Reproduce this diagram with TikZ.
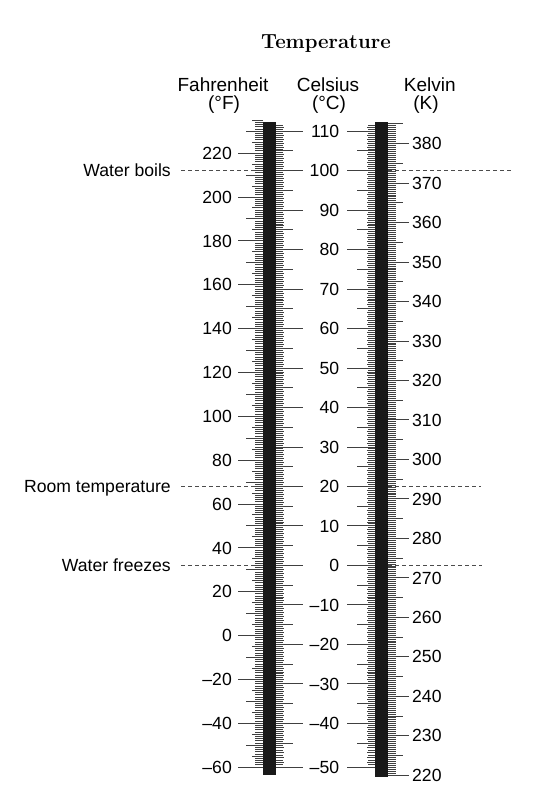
\documentclass[tikz,border=0pt]{standalone}
\usepackage{fontspec}
\newfontfamily\labfont{Liberation Sans}
\begin{document}
\begin{tikzpicture}[x=1pt,y=-1pt,
  tick/.style={draw=black!75, line width=0.75pt},
  thermobar/.style={fill=black!90, draw=none, inner sep=0pt, minimum width=13pt, anchor=north west},
  lab/.style={font=\labfont\fontsize{17.6}{20}\selectfont, inner sep=0pt},
  head/.style={font=\labfont\fontsize{19}{22}\selectfont, inner sep=0pt, anchor=base},
  guide/.style={draw=black!70, line width=0.8pt, dash pattern=on 4pt off 3pt}]
\useasboundingbox (0,0) rectangle (533,800);

% title and headers
\node[font=\bfseries\fontsize{20.4}{24}\selectfont, anchor=base, inner sep=0pt] (title) at (326,48.3) {Temperature};
\node[head] (hF) at (223,91.5) {Fahrenheit};
\node[head] (hF2) at (224,109.5) {(°F)};
\node[head] (hC) at (328,91.5) {Celsius};
\node[head] (hC2) at (329,109.5) {(°C)};
\node[head] (hK) at (429.7,91.5) {Kelvin};
\node[head] (hK2) at (426,109.5) {(K)};

% reference coordinates for guides
\coordinate (boilsL) at (263,170.6);
\coordinate (boilsR) at (388,170.6);
\coordinate (boilsE) at (512,170.6);
\coordinate (roomL) at (263,486.0);
\coordinate (roomR) at (388,486.0);
\coordinate (roomE) at (481,486.0);
\coordinate (frzL) at (263,565.5);
\coordinate (frzR) at (388,565.5);
\coordinate (frzE) at (482,565.5);

% event labels
\node[lab, anchor=base east] (boils) at (171,176.9) {Water boils};
\node[lab, anchor=base east] (room) at (171,492.3) {Room temperature};
\node[lab, anchor=base east] (frz) at (171,571.8) {Water freezes};

\draw[guide] (boils.east |- boilsL) ++(10,0) -- (boilsL);
\draw[guide] (boilsR) -- (boilsE);
\draw[guide] (room.east |- roomL) ++(10,0) -- (roomL);
\draw[guide] (roomR) -- (roomE);
\draw[guide] (frz.east |- frzL) ++(10,0) -- (frzL);
\draw[guide] (frzR) -- (frzE);

% bars
\node[thermobar, minimum height=653pt] (fbar) at (263,122) {};
\node[thermobar, minimum height=655pt] (kbar) at (375,122) {};

% Fahrenheit ticks (left of first bar)
\foreach \f in {-60,...,235}{
  \pgfmathsetmacro\yy{565.3-(\f-32)*2.193}
  \pgfmathsetmacro\len{ifthenelse(mod(\f,20)==0,25,ifthenelse(mod(\f,10)==0,17,ifthenelse(mod(\f,5)==0,11,8)))}
  \draw[tick] (263,\yy) -- ++(-\len,0);
}

% Celsius ticks (right of first bar, left of second bar)
\foreach \k in {-100,...,223}{
  \pgfmathsetmacro\c{\k/2}
  \pgfmathsetmacro\yy{\k<-90 ? 742.9+(-45-\c)*4.88 : 565.3-\c*3.947}
  \pgfmathsetmacro\lena{ifthenelse(mod(\k,20)==0,27,ifthenelse(mod(\k,10)==0,17,ifthenelse(mod(\k,2)==0,8,7)))}
  \pgfmathsetmacro\lenb{ifthenelse(mod(\k,20)==0,28,ifthenelse(mod(\k,10)==0,18,ifthenelse(mod(\k,2)==0,8.5,7.5)))}
  \draw[tick] (276,\yy) -- ++(\lena,0);
  \draw[tick] (375,\yy) -- ++(-\lenb,0);
}

% Kelvin ticks (right of second bar)
\foreach \k in {440,...,770}{
  \pgfmathsetmacro\yy{565.3-(\k/2-273.15)*3.947}
  \pgfmathsetmacro\len{ifthenelse(mod(\k,20)==0,21,ifthenelse(mod(\k,10)==0,15,8))}
  \draw[tick] (388,\yy) -- ++(\len,0);
}

% Fahrenheit labels
\foreach \f/\t in {220/220,200/200,180/180,160/160,140/140,120/120,100/100,80/80,60/60,40/40,20/20,0/0,-20/–20,-40/–40,-60/–60}{
  \pgfmathsetmacro\yy{565.3-(\f-32)*2.193+6.3}
  \node[lab, anchor=base east] (fl\f) at (232,\yy) {\t};
}

% Celsius labels
\foreach \c/\t in {110/110,100/100,90/90,80/80,70/70,60/60,50/50,40/40,30/30,20/20,10/10,0/0,-10/–10,-20/–20,-30/–30,-40/–40,-50/–50}{
  \pgfmathsetmacro\yy{\c<-45 ? 767.3+6.3 : 565.3-\c*3.947+6.3}
  \node[lab, anchor=base east] (cl\c) at (339.3,\yy) {\t};
}

% Kelvin labels
\foreach \k in {380,370,...,220}{
  \pgfmathsetmacro\yy{565.3-(\k-273.15)*3.947+6.3}
  \node[lab, anchor=base west] (kl\k) at (412,\yy) {\k};
}
\end{tikzpicture}
\end{document}
